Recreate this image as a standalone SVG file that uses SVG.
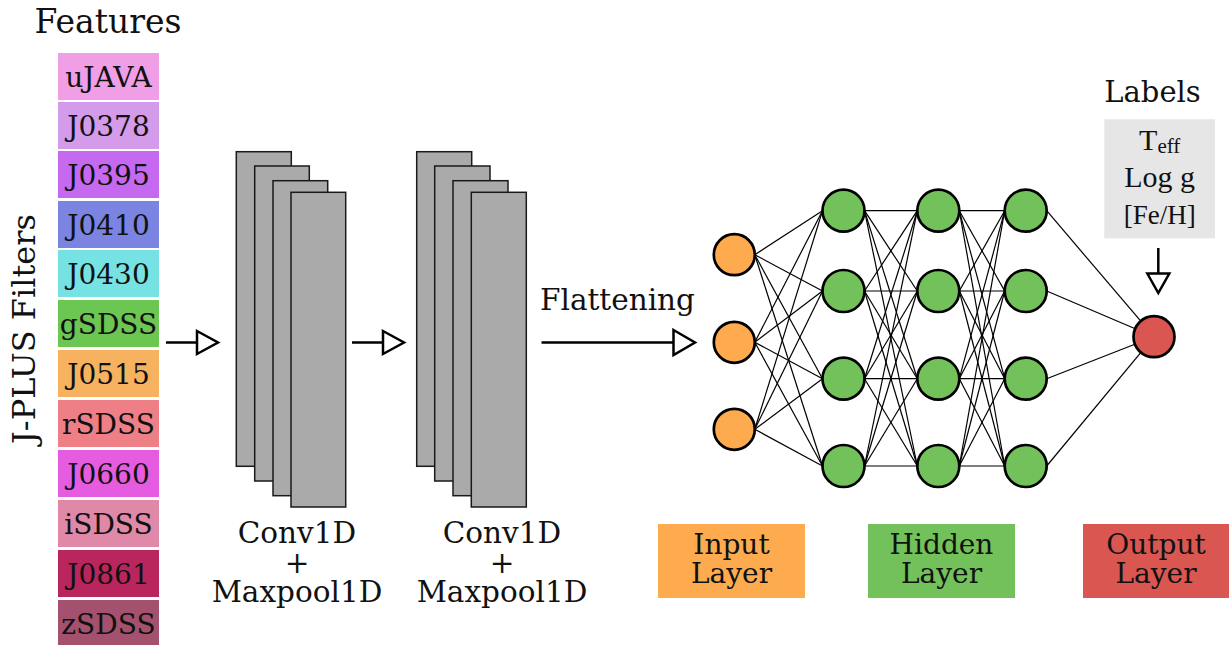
<svg xmlns="http://www.w3.org/2000/svg" width="1229" height="645" viewBox="0 0 1229 645">
<style>
text{font-family:"DejaVu Serif",serif;fill:#111;}
.t28{font-size:28px;text-anchor:middle;}
.t29{font-size:29.5px;text-anchor:middle;}
.title{font-size:33px;text-anchor:middle;}
.flt rect{stroke:none;}
.blk{fill:#aaaaaa;stroke:#1a1a1a;stroke-width:1.5;}
.conn line{stroke:#000;stroke-width:1.2;}
.arr{stroke:#000;stroke-width:2.5;fill:none;}
.head{stroke:#000;stroke-width:2.5;fill:#fff;stroke-linejoin:miter;}
.in{fill:#fdab4e;stroke:#000;stroke-width:2.7;}
.hid{fill:#73c15a;stroke:#000;stroke-width:2.7;}
.out{fill:#da5651;stroke:#000;stroke-width:2.7;}
.lx{font-family:"Liberation Serif",serif;text-anchor:middle;}
</style>
<rect width="1229" height="645" fill="#fff"/>

<text class="title" x="108" y="33">Features</text>
<text class="title" transform="translate(35,329) rotate(-90)" style="font-size:32px">J-PLUS Filters</text>

<g id="filters" class="flt">
<g id="f-uJAVA"><rect x="58" y="53" width="101" height="47" fill="#f09fe6"/><text class="t28" x="108.5" y="87">uJAVA</text></g>
<g id="f-J0378"><rect x="58" y="102" width="101" height="47" fill="#d39be9"/><text class="t28" x="108.5" y="136">J0378</text></g>
<g id="f-J0395"><rect x="58" y="151" width="101" height="47" fill="#c669f1"/><text class="t28" x="108.5" y="185">J0395</text></g>
<g id="f-J0410"><rect x="58" y="201" width="101" height="47" fill="#7b84e1"/><text class="t28" x="108.5" y="235">J0410</text></g>
<g id="f-J0430"><rect x="58" y="250" width="101" height="47" fill="#77e2e3"/><text class="t28" x="108.5" y="284">J0430</text></g>
<g id="f-gSDSS"><rect x="58" y="300" width="101" height="47" fill="#6cc652"/><text class="t28" x="108.5" y="334">gSDSS</text></g>
<g id="f-J0515"><rect x="58" y="350" width="101" height="47" fill="#f7b25f"/><text class="t28" x="108.5" y="384">J0515</text></g>
<g id="f-rSDSS"><rect x="58" y="400" width="101" height="47" fill="#ee7f87"/><text class="t28" x="108.5" y="434">rSDSS</text></g>
<g id="f-J0660"><rect x="58" y="450" width="101" height="47" fill="#e65ce1"/><text class="t28" x="108.5" y="484">J0660</text></g>
<g id="f-iSDSS"><rect x="58" y="500" width="101" height="47" fill="#e088a8"/><text class="t28" x="108.5" y="534">iSDSS</text></g>
<g id="f-J0861"><rect x="58" y="550" width="101" height="47" fill="#b8265d"/><text class="t28" x="108.5" y="584">J0861</text></g>
<g id="f-zSDSS"><rect x="58" y="600" width="101" height="47" fill="#a4516f"/><text class="t28" x="108.5" y="634">zSDSS</text></g>
</g>

<g id="conv1">
<rect class="blk" x="236.3" y="151.7" width="55" height="314.6"/>
<rect class="blk" x="254.7" y="166" width="54.6" height="315"/>
<rect class="blk" x="273" y="180.7" width="54.7" height="315"/>
<rect class="blk" x="291" y="192.3" width="54.7" height="314.7"/>
<text class="t29"><tspan x="297" y="543">Conv1D</tspan><tspan x="297" y="572.5">+</tspan><tspan x="297" y="602">Maxpool1D</tspan></text>
</g>
<g id="conv2">
<rect class="blk" x="416.7" y="151.7" width="55" height="314.6"/>
<rect class="blk" x="434.7" y="166" width="55.3" height="315"/>
<rect class="blk" x="453" y="180.7" width="55" height="315"/>
<rect class="blk" x="471.3" y="192.3" width="55" height="314.7"/>
<text class="t29"><tspan x="502" y="543">Conv1D</tspan><tspan x="502" y="572.5">+</tspan><tspan x="502" y="602">Maxpool1D</tspan></text>
</g>

<g id="arrows">
<line class="arr" x1="166" y1="342.5" x2="197" y2="342.5"/>
<polygon class="head" points="197,331 218,342.5 197,354"/>
<line class="arr" x1="352" y1="342.5" x2="383" y2="342.5"/>
<polygon class="head" points="383,331 404,342.5 383,354"/>
<line class="arr" x1="541.5" y1="342.5" x2="673.5" y2="342.5"/>
<polygon class="head" points="673.5,330 695,342.5 673.5,355"/>
<text class="t29" x="617.5" y="310">Flattening</text>
<line class="arr" x1="1158.3" y1="248" x2="1158.3" y2="273.5"/>
<polygon class="head" points="1147.3,273.5 1158.3,293 1169.3,273.5"/>
</g>

<g id="connectors" class="conn">
<line x1="754.8" y1="254.7" x2="822.5" y2="210.7"/><line x1="754.8" y1="254.7" x2="822.5" y2="291"/><line x1="754.8" y1="254.7" x2="822.5" y2="378.7"/><line x1="754.8" y1="254.7" x2="822.5" y2="466"/>
<line x1="754.8" y1="342.3" x2="822.5" y2="210.7"/><line x1="754.8" y1="342.3" x2="822.5" y2="291"/><line x1="754.8" y1="342.3" x2="822.5" y2="378.7"/><line x1="754.8" y1="342.3" x2="822.5" y2="466"/>
<line x1="754.8" y1="429.3" x2="822.5" y2="210.7"/><line x1="754.8" y1="429.3" x2="822.5" y2="291"/><line x1="754.8" y1="429.3" x2="822.5" y2="378.7"/><line x1="754.8" y1="429.3" x2="822.5" y2="466"/>
<line x1="864.5" y1="210.7" x2="917.3" y2="210.7"/><line x1="864.5" y1="210.7" x2="917.3" y2="291"/><line x1="864.5" y1="210.7" x2="917.3" y2="378.7"/><line x1="864.5" y1="210.7" x2="917.3" y2="466"/>
<line x1="864.5" y1="291" x2="917.3" y2="210.7"/><line x1="864.5" y1="291" x2="917.3" y2="291"/><line x1="864.5" y1="291" x2="917.3" y2="378.7"/><line x1="864.5" y1="291" x2="917.3" y2="466"/>
<line x1="864.5" y1="378.7" x2="917.3" y2="210.7"/><line x1="864.5" y1="378.7" x2="917.3" y2="291"/><line x1="864.5" y1="378.7" x2="917.3" y2="378.7"/><line x1="864.5" y1="378.7" x2="917.3" y2="466"/>
<line x1="864.5" y1="466" x2="917.3" y2="210.7"/><line x1="864.5" y1="466" x2="917.3" y2="291"/><line x1="864.5" y1="466" x2="917.3" y2="378.7"/><line x1="864.5" y1="466" x2="917.3" y2="466"/>
<line x1="959.3" y1="210.7" x2="1004.7" y2="210.7"/><line x1="959.3" y1="210.7" x2="1004.7" y2="291"/><line x1="959.3" y1="210.7" x2="1004.7" y2="378.7"/><line x1="959.3" y1="210.7" x2="1004.7" y2="466"/>
<line x1="959.3" y1="291" x2="1004.7" y2="210.7"/><line x1="959.3" y1="291" x2="1004.7" y2="291"/><line x1="959.3" y1="291" x2="1004.7" y2="378.7"/><line x1="959.3" y1="291" x2="1004.7" y2="466"/>
<line x1="959.3" y1="378.7" x2="1004.7" y2="210.7"/><line x1="959.3" y1="378.7" x2="1004.7" y2="291"/><line x1="959.3" y1="378.7" x2="1004.7" y2="378.7"/><line x1="959.3" y1="378.7" x2="1004.7" y2="466"/>
<line x1="959.3" y1="466" x2="1004.7" y2="210.7"/><line x1="959.3" y1="466" x2="1004.7" y2="291"/><line x1="959.3" y1="466" x2="1004.7" y2="378.7"/><line x1="959.3" y1="466" x2="1004.7" y2="466"/>
<line x1="1046.7" y1="210.7" x2="1154" y2="336.7"/><line x1="1046.7" y1="291" x2="1154" y2="336.7"/><line x1="1046.7" y1="378.7" x2="1154" y2="336.7"/><line x1="1046.7" y1="466" x2="1154" y2="336.7"/>
</g>

<g id="input-nodes">
<circle id="in1" class="in" cx="734.3" cy="254.7" r="20.5"/>
<circle id="in2" class="in" cx="734.3" cy="342.3" r="20.5"/>
<circle id="in3" class="in" cx="734.3" cy="429.3" r="20.5"/>
</g>
<g id="hidden-nodes">
<circle id="h11" class="hid" cx="843.5" cy="210.7" r="21"/>
<circle id="h12" class="hid" cx="843.5" cy="291" r="21"/>
<circle id="h13" class="hid" cx="843.5" cy="378.7" r="21"/>
<circle id="h14" class="hid" cx="843.5" cy="466" r="21"/>
<circle id="h21" class="hid" cx="938.3" cy="210.7" r="21"/>
<circle id="h22" class="hid" cx="938.3" cy="291" r="21"/>
<circle id="h23" class="hid" cx="938.3" cy="378.7" r="21"/>
<circle id="h24" class="hid" cx="938.3" cy="466" r="21"/>
<circle id="h31" class="hid" cx="1025.7" cy="210.7" r="21"/>
<circle id="h32" class="hid" cx="1025.7" cy="291" r="21"/>
<circle id="h33" class="hid" cx="1025.7" cy="378.7" r="21"/>
<circle id="h34" class="hid" cx="1025.7" cy="466" r="21"/>
</g>
<g id="output-node">
<circle id="out1" class="out" cx="1154" cy="336.7" r="20.5"/>
</g>

<g id="labels">
<text class="t28" x="1152.5" y="102" style="font-size:29px">Labels</text>
<rect x="1104.3" y="119.3" width="110.7" height="119" fill="#e6e6e6"/>
<text class="lx" x="1159.7" y="150" font-size="30"><tspan>T</tspan><tspan font-size="21" dy="3">eff</tspan></text>
<text class="lx" x="1159.7" y="187.3" font-size="30">Log g</text>
<text class="lx" x="1159.7" y="224.3" font-size="27">[Fe/H]</text>
</g>

<g id="legend">
<g id="leg-input"><rect x="658" y="524" width="147" height="74" fill="#fdab4e"/><text class="t28"><tspan x="731.5" y="554">Input</tspan><tspan x="731.5" y="583">Layer</tspan></text></g>
<g id="leg-hidden"><rect x="868" y="524" width="147" height="74" fill="#73c15a"/><text class="t28"><tspan x="941.5" y="554">Hidden</tspan><tspan x="941.5" y="583">Layer</tspan></text></g>
<g id="leg-output"><rect x="1083" y="524" width="146" height="74" fill="#da5651"/><text class="t28"><tspan x="1156" y="554">Output</tspan><tspan x="1156" y="583">Layer</tspan></text></g>
</g>
</svg>
